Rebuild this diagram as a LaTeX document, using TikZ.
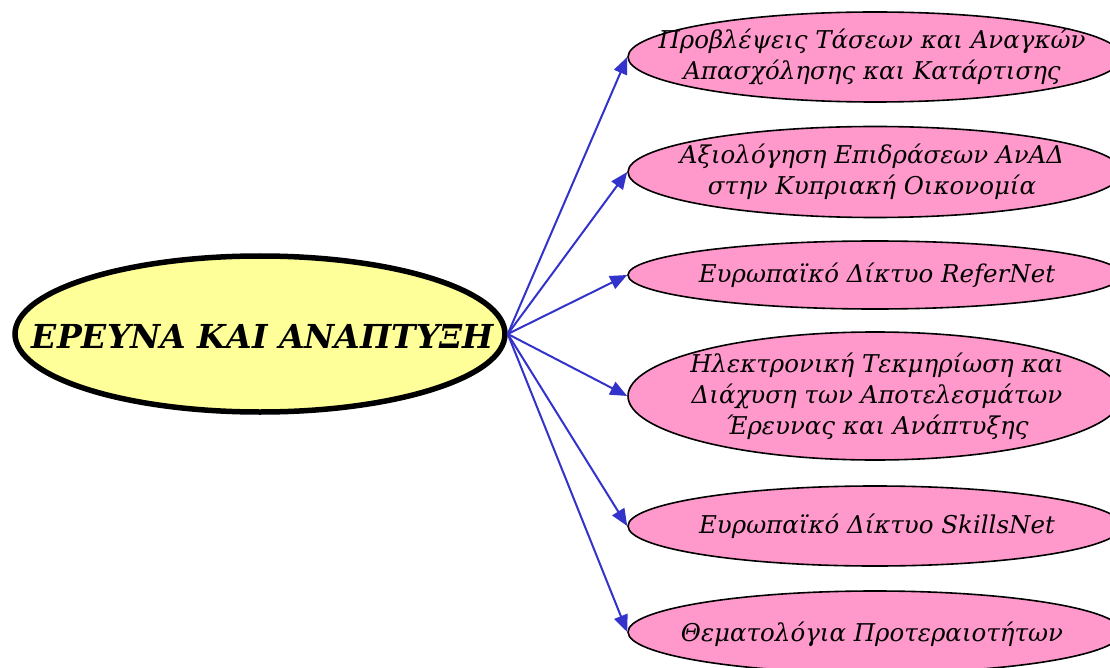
\documentclass[tikz,border=0pt]{standalone}
\usepackage{fontspec}
\setmainfont{DejaVu Serif}
\usetikzlibrary{shapes.geometric,arrows.meta}
\definecolor{pinkfill}{HTML}{FF99CC}
\definecolor{yellowfill}{HTML}{FFFF99}
\definecolor{arrowblue}{HTML}{3333CC}
\tikzset{
  pinkell/.style={ellipse, draw=black, line width=1.6pt, fill=pinkfill, inner sep=0pt, minimum width=494pt},
  mainell/.style={ellipse, draw=black, line width=5.5pt, fill=yellowfill, inner sep=0pt, minimum width=490pt, minimum height=156pt},
  lbl/.style={align=center, font=\fontsize{24.5}{31}\selectfont\itshape},
  conn/.style={draw=arrowblue, line width=2pt, -{Triangle[length=17pt,width=14pt]}}
}
\begin{document}
\begin{tikzpicture}[x=1pt,y=-1pt]
\useasboundingbox (0,0) rectangle (1110,668);
\node[mainell] (main) at (260,334) {};
\node[font=\fontsize{33}{38}\selectfont\bfseries\itshape] (maint) at (263,336) {ΕΡΕΥΝΑ ΚΑΙ ΑΝΑΠΤΥΞΗ};

\node[pinkell, minimum height=90pt] (p1) at (875,57) {};
\node[lbl] (t1) at (872,57) {Προβλέψεις Τάσεων και Αναγκών\\Απασχόλησης και Κατάρτισης};

\node[pinkell, minimum height=91pt] (p2) at (875,172) {};
\node[lbl] (t2) at (872,172) {Αξιολόγηση Επιδράσεων ΑνΑΔ\\στην Κυπριακή Οικονομία};

\node[pinkell, minimum height=68pt] (p3) at (875,275) {};
\node[lbl] (t3) at (877,275) {Ευρωπαϊκό Δίκτυο ReferNet};

\node[pinkell, minimum height=128pt] (p4) at (875,396) {};
\node[lbl] (t4) at (877,396) {Ηλεκτρονική Τεκμηρίωση και\\Διάχυση των Αποτελεσμάτων\\Έρευνας και Ανάπτυξης};

\node[pinkell, minimum height=80pt] (p5) at (875,526) {};
\node[lbl] (t5) at (877,526) {Ευρωπαϊκό Δίκτυο SkillsNet};

\node[pinkell, minimum height=82pt] (p6) at (875,632) {};
\node[lbl] (t6) at (872,634) {Θεματολόγια Προτεραιοτήτων};

\foreach \p in {p1,p2,p3,p4,p5,p6}
  \draw[conn] (main.east) -- (\p.west);
\end{tikzpicture}
\end{document}
